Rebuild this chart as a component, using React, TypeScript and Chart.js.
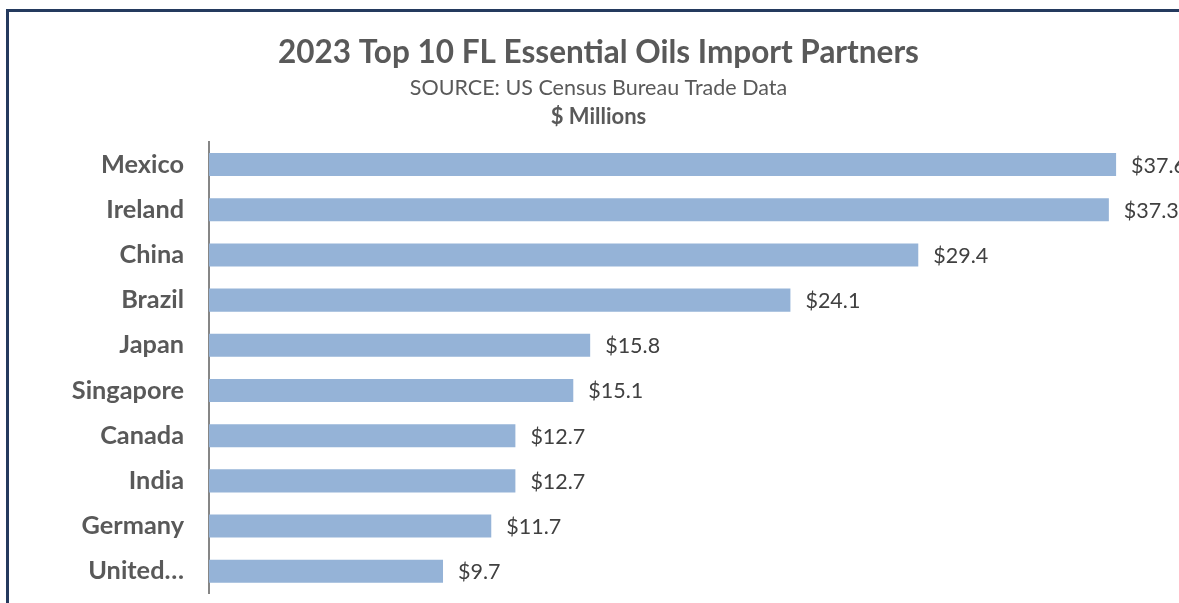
import React, { useEffect, useRef } from "react";
import { Chart, registerables } from "chart.js";

Chart.register(...registerables);

const categories = [
  "Mexico",
  "Ireland",
  "China",
  "Brazil",
  "Japan",
  "Singapore",
  "Canada",
  "India",
  "Germany",
  "United Kingdom",
];
const values = [37.6, 37.3, 29.4, 24.1, 15.8, 15.1, 12.7, 12.7, 11.7, 9.7];

const titleText = "2023 Top 10 FL Essential Oils Import Partners";
const subtitleText = "SOURCE: US Census Bureau Trade Data";
const unitText = "$ Millions";

const FONT = "Lato, 'Open Sans', sans-serif";
const GREY = "#595959";

const titlesPlugin = {
  id: "titlesPlugin",
  afterDraw(chart: any) {
    const ctx = chart.ctx;
    const cx = chart.width / 2;
    ctx.save();
    ctx.textAlign = "center";
    ctx.textBaseline = "middle";
    ctx.fillStyle = GREY;
    ctx.font = `bold 31.5px ${FONT}`;
    ctx.fillText(titleText, cx, 53);
    ctx.font = `21.5px ${FONT}`;
    ctx.fillText(subtitleText, cx, 88);
    ctx.font = `bold 22px ${FONT}`;
    ctx.fillText(unitText, cx, 117);
    ctx.restore();
  },
};

const valueLabelsPlugin = {
  id: "valueLabelsPlugin",
  afterDatasetsDraw(chart: any) {
    const ctx = chart.ctx;
    const meta = chart.getDatasetMeta(0);
    ctx.save();
    ctx.font = `21.5px ${FONT}`;
    ctx.fillStyle = "#404040";
    ctx.textAlign = "left";
    ctx.textBaseline = "middle";
    meta.data.forEach((bar: any, i: number) => {
      ctx.fillText("$" + values[i].toFixed(1), bar.x + 15, bar.y + 1);
    });
    ctx.restore();
  },
};

export default function App() {
  const canvasRef = useRef<HTMLCanvasElement | null>(null);

  useEffect(() => {
    if (!canvasRef.current) return;
    const chart = new Chart(canvasRef.current, {
      type: "bar",
      data: {
        labels: categories,
        datasets: [
          {
            data: values,
            backgroundColor: "#95B3D7",
            borderWidth: 0,
            categoryPercentage: 1,
            barPercentage: 0.51,
          },
        ],
      },
      options: {
        indexAxis: "y",
        animation: false,
        responsive: false,
        maintainAspectRatio: false,
        layout: { padding: { top: 142, bottom: 9, left: 0, right: 23 } },
        plugins: {
          legend: { display: false },
          title: { display: false },
          tooltip: { enabled: false },
        },
        scales: {
          x: {
            min: 0,
            max: 40,
            display: false,
          },
          y: {
            grid: { display: false, drawTicks: false },
            border: { display: true, color: "#868686", width: 2 },
            ticks: {
              color: GREY,
              padding: 25,
              font: { family: FONT, size: 25.3, weight: "bold" },
              callback: function (this: any, _v: any, i: number) {
                const s = categories[i];
                return s.length > 10 ? s.split(" ")[0] + "\u2026" : s;
              },
            },
            afterFit(scale: any) {
              scale.width = 209;
            },
          },
        },
      },
      plugins: [titlesPlugin, valueLabelsPlugin],
    } as any);
    return () => chart.destroy();
  }, []);

  return (
    <div
      style={{
        position: "fixed",
        left: 0,
        top: 0,
        width: 1179,
        height: 603,
        overflow: "hidden",
        background: "#ffffff",
      }}
    >
      <div
        style={{
          position: "absolute",
          left: 6,
          top: 9,
          width: 1300,
          height: 700,
          border: "3px solid #243A5E",
          boxSizing: "border-box",
        }}
      />
      <canvas
        ref={canvasRef}
        width={1197}
        height={634}
        style={{ position: "absolute", left: 0, top: 0, width: 1197, height: 634 }}
      />
    </div>
  );
}
